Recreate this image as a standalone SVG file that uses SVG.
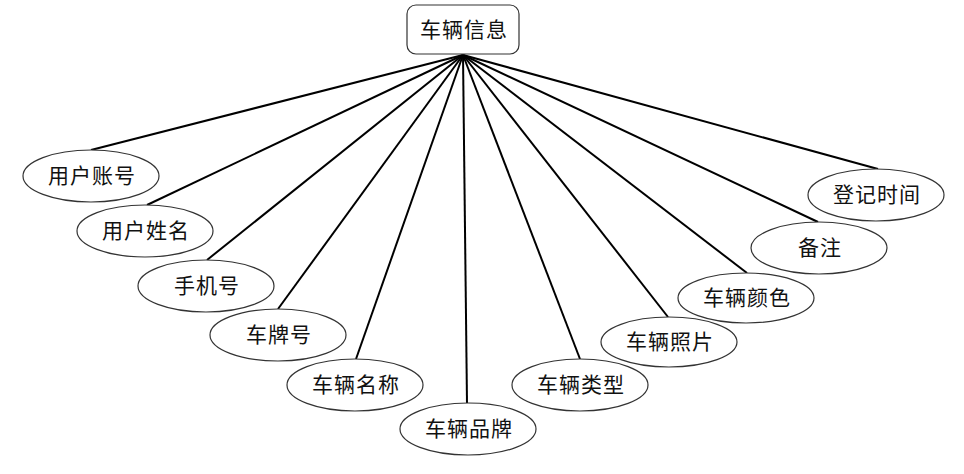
<svg xmlns="http://www.w3.org/2000/svg" width="964" height="474" viewBox="0 0 964 474">
<style>
.e{fill:#fff;stroke:#333;stroke-width:1.2}
.c line{stroke:#000;stroke-width:2}
text{font-family:"Noto Sans CJK SC","Noto Sans CJK JP",sans-serif;font-size:21px;fill:#111;text-anchor:middle;letter-spacing:1px}
</style>
<rect width="964" height="474" fill="#fff"/>
<g id="connectors" class="c">
<line x1="463" y1="55" x2="91" y2="150"/>
<line x1="463" y1="55" x2="147" y2="205"/>
<line x1="463" y1="55" x2="207" y2="260"/>
<line x1="463" y1="55" x2="278" y2="309"/>
<line x1="463" y1="55" x2="356" y2="359"/>
<line x1="463" y1="55" x2="467" y2="403"/>
<line x1="463" y1="55" x2="580" y2="359"/>
<line x1="463" y1="55" x2="668" y2="317"/>
<line x1="463" y1="55" x2="747" y2="273"/>
<line x1="463" y1="55" x2="818" y2="222"/>
<line x1="463" y1="55" x2="878" y2="169"/>
</g>
<g id="root"><rect x="407" y="5" width="112" height="49" rx="9" class="e"/><text x="464" y="37">车辆信息</text></g>
<g id="n1"><ellipse cx="91" cy="176" rx="68" ry="26" class="e"/><text x="92" y="183">用户账号</text></g>
<g id="n2"><ellipse cx="145" cy="231" rx="68" ry="26" class="e"/><text x="146" y="238">用户姓名</text></g>
<g id="n3"><ellipse cx="206" cy="286" rx="68" ry="26" class="e"/><text x="207" y="293">手机号</text></g>
<g id="n4"><ellipse cx="278" cy="335" rx="68" ry="26" class="e"/><text x="279" y="342">车牌号</text></g>
<g id="n5"><ellipse cx="355" cy="385" rx="68" ry="26" class="e"/><text x="356" y="392">车辆名称</text></g>
<g id="n6"><ellipse cx="468" cy="429" rx="68" ry="26" class="e"/><text x="469" y="436">车辆品牌</text></g>
<g id="n7"><ellipse cx="580" cy="385" rx="68" ry="26" class="e"/><text x="581" y="392">车辆类型</text></g>
<g id="n8"><ellipse cx="669" cy="342" rx="68" ry="25" class="e"/><text x="670" y="349">车辆照片</text></g>
<g id="n9"><ellipse cx="746" cy="298" rx="68" ry="25" class="e"/><text x="747" y="305">车辆颜色</text></g>
<g id="n10"><ellipse cx="819" cy="248" rx="68" ry="26" class="e"/><text x="820" y="255">备注</text></g>
<g id="n11"><ellipse cx="876" cy="195" rx="68" ry="26" class="e"/><text x="877" y="202">登记时间</text></g>
</svg>
